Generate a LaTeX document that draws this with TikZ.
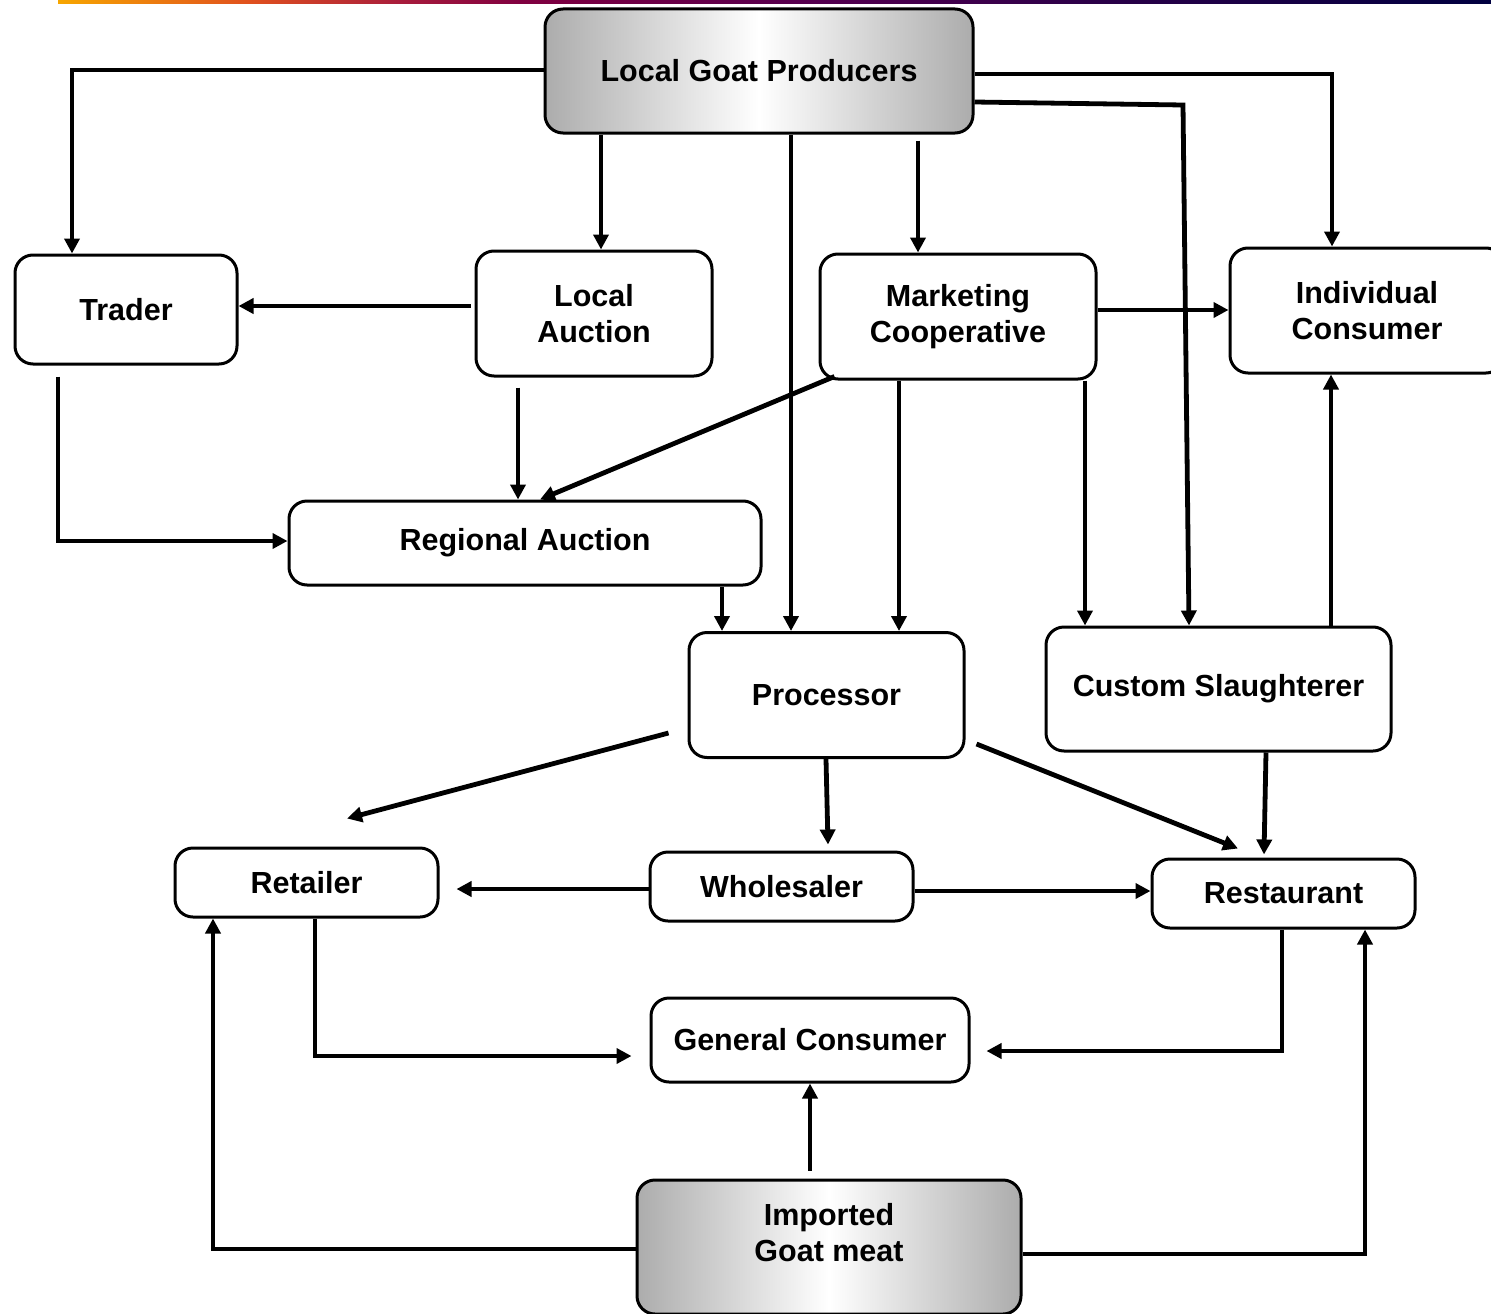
\documentclass[tikz,border=0pt]{standalone}
\usepackage{fontspec}
\setmainfont{Liberation Sans}
\usetikzlibrary{arrows.meta,calc}
\definecolor{barA}{HTML}{F7A600}
\definecolor{barB}{HTML}{E0501E}
\definecolor{barC}{HTML}{A81C3C}
\definecolor{barD}{HTML}{800040}
\definecolor{barE}{HTML}{540050}
\definecolor{barF}{HTML}{2A0048}
\definecolor{barG}{HTML}{000040}
\begin{document}
\begin{tikzpicture}[x=1pt,y=-1pt,
  box/.style={draw=black, line width=3pt, rounded corners=18pt, fill=white,
    inner sep=0pt, align=center, font=\fontsize{30.5}{36}\selectfont\bfseries},
  gbox/.style={box, left color=gray!65, right color=gray!65, middle color=white},
  lbl/.style={inner sep=0pt, align=center, font=\fontsize{30.5}{36}\selectfont\bfseries},
  arr/.style={line width=4.8pt, -{Triangle[length=15pt,width=15pt]}}]
\clip (0,0) rectangle (1491,1314);
\fill[white] (0,0) rectangle (1491,1314);
% top gradient bar
\shade[left color=barA, right color=barB] (58,0) rectangle (250,3.5);
\shade[left color=barB, right color=barC] (250,0) rectangle (400,3.5);
\shade[left color=barC, right color=barD] (400,0) rectangle (520,3.5);
\shade[left color=barD, right color=barE] (520,0) rectangle (820,3.5);
\shade[left color=barE, right color=barF] (820,0) rectangle (1100,3.5);
\shade[left color=barF, right color=barG] (1100,0) rectangle (1491,3.5);

% nodes
\node[gbox, minimum width=428pt, minimum height=124pt] (lgp) at (759,71) {Local Goat Producers};
\node[box, minimum width=222pt, minimum height=109pt] (trader) at (126,309.5) {Trader};
\node[box, minimum width=236pt, minimum height=125pt] (lauc) at (594,313.5) {Local\\Auction};
\node[box, minimum width=276pt, minimum height=125pt] (mcoop) at (958,316.5) {Marketing\\Cooperative};
\node[box, minimum width=274pt, minimum height=125pt] (icons) at (1367,310.5) {Individual\\Consumer};
\node[box, minimum width=472pt, minimum height=84pt] (rauc) at (525,543) {Regional Auction};
\node[box, minimum width=275pt, minimum height=125pt] (proc) at (826.5,695) {Processor};
\node[box, minimum width=345pt, minimum height=124pt] (cslau) at (1218.5,689) {Custom Slaughterer};
\node[box, minimum width=263pt, minimum height=69pt] (retail) at (306.5,882.5) {Retailer};
\node[box, minimum width=263pt, minimum height=69pt] (whole) at (781.5,886.5) {Wholesaler};
\node[box, minimum width=263pt, minimum height=69pt] (rest) at (1283.5,893.5) {Restaurant};
\node[box, minimum width=318pt, minimum height=84pt] (gcons) at (810,1040) {General Consumer};
\node[gbox, minimum width=384pt, minimum height=134pt] (imp) at (829,1247) {};
\node[lbl] (imptext) at (829,1233) {Imported\\Goat meat};

% connectors from Local Goat Producers
\draw[arr] (lgp.west |- 0,70) -| (trader.north -| 72,0);
\draw[arr] (lgp.south -| 601,0) -- (lauc.north -| 601,0);
\draw[arr] (lgp.south -| 791,0) -- (proc.north -| 791,0);
\draw[arr] ($(lgp.south -| 918,0)+(0,6)$) -- (mcoop.north -| 918,0);
\draw[arr] (lgp.east |- 0,74) -| (icons.north -| 1332,0);
\draw[arr] (lgp.east |- 0,102) -- (1183,105) -- (cslau.north -| 1189,0);

% middle row
\draw[arr] ($(lauc.west |- 0,306)+(-4,0)$) -- (trader.east |- 0,306);
\draw[arr] ($(lauc.south -| 518,0)+(0,10)$) -- (rauc.north -| 518,0);
\draw[arr] ($(trader.south -| 58,0)+(0,11)$) |- (rauc.west |- 0,541);
\draw[arr] ($(mcoop.south west)+(16,-4)$) -- (rauc.north -| 540,0);
\draw[arr] (mcoop.south -| 899,0) -- (proc.north -| 899,0);
\draw[arr] (mcoop.south -| 1085,0) -- (cslau.north -| 1085,0);
\draw[arr] (mcoop.east |- 0,310) -- (icons.west |- 0,310);
\draw[arr] (rauc.south -| 722,0) -- (proc.north -| 722,0);
\draw[arr] (cslau.north -| 1331,0) -- (icons.south -| 1331,0);

% lower part
\draw[arr] ($(proc.west |- 0,733)+(-19,0)$) -- ($(retail.north -| 347,0)+(0,-28)$);
\draw[arr] (proc.south -| 826,0) -- ($(whole.north -| 828,0)+(0,-6)$);
\draw[arr] ($(proc.east |- 0,744)+(11,0)$) -- ($(rest.north -| 1238,0)+(0,-9)$);
\draw[arr] (cslau.south -| 1266,0) -- ($(rest.north -| 1264,0)+(0,-3)$);
\draw[arr] (whole.west |- 0,889) -- ($(retail.east |- 0,889)+(17,0)$);
\draw[arr] (whole.east |- 0,891) -- (rest.west |- 0,891);
\draw[arr] (retail.south -| 315,0) |- ($(gcons.west |- 0,1056)+(-18,0)$);
\draw[arr] (rest.south -| 1282,0) |- ($(gcons.east |- 0,1051)+(16,0)$);
\draw[arr] ($(imp.north -| 810,0)+(0,-8)$) -- (gcons.south -| 810,0);
\draw[arr] (imp.west |- 0,1249) -| (retail.south -| 213,0);
\draw[arr] (imp.east |- 0,1254) -| (rest.south -| 1365,0);
\end{tikzpicture}
\end{document}
